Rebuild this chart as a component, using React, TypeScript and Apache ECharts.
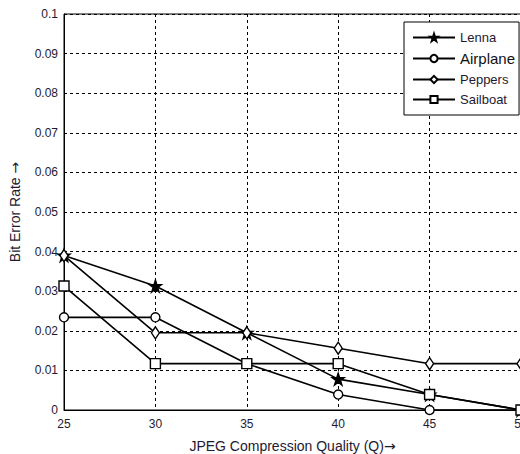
import React, { useEffect, useRef } from "react";
import * as echarts from "echarts";

const qualities = [25, 30, 35, 40, 45, 50];
const seriesNames = ["Lenna", "Airplane", "Peppers", "Sailboat"];
const lenna = [0.039, 0.0313, 0.0195, 0.0078, 0.0039, 0];
const airplane = [0.0234, 0.0234, 0.0117, 0.0039, 0, 0];
const peppers = [0.039, 0.0195, 0.0195, 0.0156, 0.0117, 0.0117];
const sailboat = [0.0313, 0.0117, 0.0117, 0.0117, 0.0039, 0];

const STAR =
  "path://M50 0 L61.17 34.63 L97.55 34.55 L68.07 55.87 L79.39 90.45 L50 69 L20.61 90.45 L31.93 55.87 L2.45 34.55 L38.83 34.63 Z";

export default function App() {
  const ref = useRef<HTMLDivElement>(null);
  useEffect(() => {
    if (!ref.current) return;
    const chart = echarts.init(ref.current, null, { renderer: "svg" });
    const font = "Liberation Sans";
    const txt = "#1e1a30";
    const mk = (name: string, vals: number[], symbol: string, size: any, filled: boolean) => ({
      name,
      type: "line",
      data: qualities.map((q, i) => [q, vals[i]]),
      symbol,
      symbolSize: size,
      showSymbol: true,
      lineStyle: { color: "#000", width: 1.6 },
      itemStyle: {
        color: filled ? "#000" : "#fff",
        borderColor: "#000",
        borderWidth: 1.4,
      },
      emphasis: { disabled: true },
    });
    const arrowRich = { arr: { fontFamily: "DejaVu Sans", fontSize: 14, color: txt } };
    chart.setOption({
      animation: false,
      backgroundColor: "#fff",
      grid: {
        left: 64,
        top: 14,
        width: 457,
        height: 396,
        outerBoundsMode: "none",
        containLabel: false,
        show: true,
        borderColor: "#000",
        borderWidth: 1,
        backgroundColor: "transparent",
      },
      legend: {
        orient: "vertical",
        left: 404,
        top: 22,
        width: 112,
        padding: [9, 4, 9, 8],
        itemGap: 7,
        itemWidth: 42,
        itemHeight: 9,
        borderColor: "#000",
        borderWidth: 1,
        backgroundColor: "#fff",
        formatter: (n: string) => (n === "Airplane" ? `{b|${n}}` : `{a|${n}}`),
        textStyle: {
          fontFamily: font,
          fontSize: 13,
          color: txt,
          rich: {
            a: { fontFamily: font, fontSize: 13, color: txt, lineHeight: 16 },
            b: { fontFamily: font, fontSize: 15, color: "#111", lineHeight: 16 },
          },
        },
        data: seriesNames,
      },
      xAxis: {
        type: "value",
        min: 25,
        max: 50,
        interval: 5,
        name: "JPEG Compression Quality (Q){arr|\u2192}",
        nameLocation: "middle",
        nameGap: 29,
        nameTextStyle: { fontFamily: font, fontSize: 14, color: txt, rich: arrowRich },
        axisLine: { show: true, lineStyle: { color: "#000" } },
        axisTick: { show: false },
        axisLabel: { fontFamily: font, fontSize: 12, color: txt, margin: 8 },
        splitLine: { show: true, lineStyle: { color: "#000", type: [3, 3], width: 1 } },
      },
      yAxis: {
        type: "value",
        min: 0,
        max: 0.1,
        interval: 0.01,
        name: "Bit Error Rate {arr|\u2192}",
        nameLocation: "middle",
        nameGap: 42,
        nameTextStyle: { fontFamily: font, fontSize: 14, color: txt, rich: arrowRich },
        axisLine: { show: true, lineStyle: { color: "#000" } },
        axisTick: { show: false },
        axisLabel: {
          fontFamily: font,
          fontSize: 12,
          color: txt,
          margin: 6,
          formatter: (v: number) => String(Math.round(v * 100) / 100),
        },
        splitLine: { show: true, lineStyle: { color: "#000", type: [3, 3], width: 1 } },
      },
      series: [
        mk("Lenna", lenna, STAR, 12, true),
        mk("Airplane", airplane, "circle", 9, false),
        mk("Peppers", peppers, "diamond", [8, 12], false),
        mk("Sailboat", sailboat, "rect", 10, false),
      ],
    });
    return () => chart.dispose();
  }, []);
  return (
    <div
      ref={ref}
      style={{ position: "fixed", left: 0, top: 0, width: 520, height: 454 }}
    />
  );
}
